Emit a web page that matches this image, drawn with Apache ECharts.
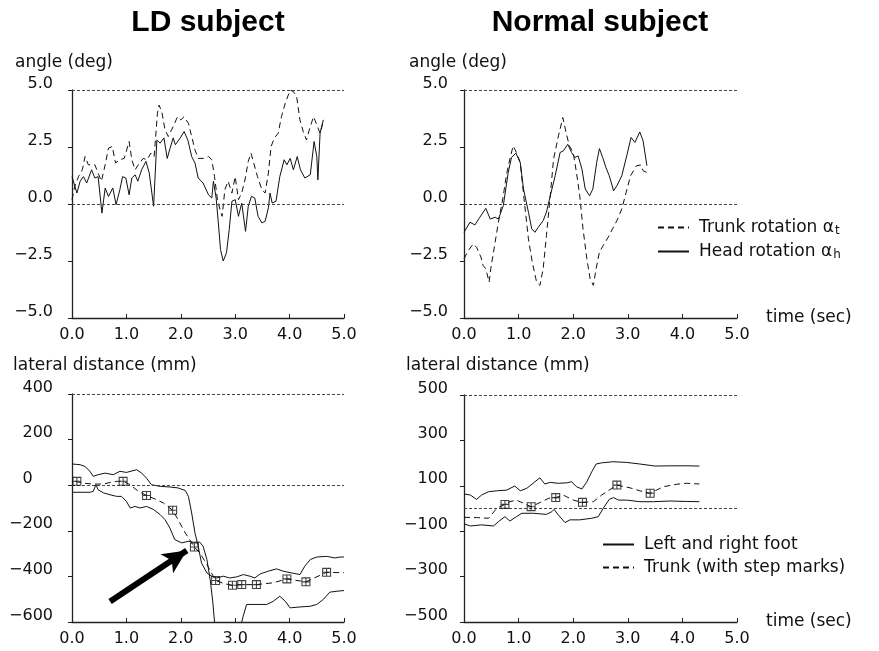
<!DOCTYPE html>
<html>
<head>
<meta charset="utf-8">
<script src="https://cdn.jsdelivr.net/npm/echarts@6/dist/echarts.min.js"></script>
<style>html,body{margin:0;padding:0;background:#fff}#c{width:879px;height:651px}</style>
</head>
<body>
<div id="c"></div>
<script>
// ---- data (time in sec, value) ----
const timeTicks = [0, 1, 2, 3, 4, 5];
const angleTicks = [-5, -2.5, 0, 2.5, 5];
const ldDistTicks = [-600, -400, -200, 0, 200, 400];
const nsDistTicks = [-500, -300, -100, 100, 300, 500];

const ldTrunkAngle = [[0,0.19],[0.05,0.77],[0.12,1.2],[0.19,1.5],[0.24,2.08],[0.3,1.72],[0.36,1.72],[0.42,1.72],[0.48,1.36],[0.54,1.0],[0.61,1.72],[0.67,2.45],[0.74,2.52],[0.8,1.8],[0.88,1.94],[0.96,2.0],[1.05,2.74],[1.1,1.94],[1.16,1.5],[1.24,1.8],[1.31,2.0],[1.38,1.94],[1.45,2.23],[1.51,2.08],[1.57,3.98],[1.6,4.34],[1.65,4.05],[1.71,3.25],[1.77,2.96],[1.86,3.4],[1.94,3.83],[2.0,3.69],[2.06,3.83],[2.14,3.54],[2.2,2.96],[2.26,2.38],[2.32,2.0],[2.41,2.0],[2.51,2.08],[2.57,1.94],[2.62,1.2],[2.67,0.26],[2.72,-0.25],[2.76,-0.54],[2.81,0.63],[2.87,1.0],[2.94,0.48],[3.0,1.2],[3.06,0.19],[3.12,0.48],[3.18,1.06],[3.24,1.87],[3.29,2.23],[3.35,1.72],[3.41,1.2],[3.49,0.63],[3.55,0.48],[3.61,1.36],[3.66,2.52],[3.72,2.9],[3.79,3.1],[3.85,3.83],[3.92,4.42],[4.01,5.0],[4.07,4.93],[4.13,4.7],[4.19,3.69],[4.25,3.18],[4.31,2.81],[4.37,3.32],[4.44,3.83],[4.5,3.47],[4.56,3.1],[4.61,3.54]];
const ldHeadAngle = [[0,1.2],[0.09,0.48],[0.15,1.0],[0.21,1.2],[0.27,0.92],[0.36,1.5],[0.42,1.14],[0.48,1.2],[0.55,-0.4],[0.61,0.7],[0.67,0.33],[0.75,0.7],[0.81,-0.03],[0.88,0.63],[0.93,1.2],[0.99,1.14],[1.05,0.4],[1.1,1.14],[1.16,1.28],[1.21,1.0],[1.28,1.5],[1.36,1.87],[1.42,1.36],[1.5,-0.1],[1.56,2.8],[1.62,2.67],[1.69,2.9],[1.75,2.0],[1.81,2.5],[1.86,2.9],[1.9,2.6],[1.99,2.9],[2.06,3.18],[2.13,2.8],[2.2,2.08],[2.26,1.8],[2.32,1.14],[2.41,0.92],[2.51,0.4],[2.57,0.26],[2.6,1.0],[2.65,0.26],[2.69,-0.83],[2.73,-2.0],[2.78,-2.5],[2.84,-2.14],[2.89,-1.12],[2.94,0.12],[3.0,0.19],[3.06,-0.54],[3.12,0.04],[3.19,-1.2],[3.24,-0.1],[3.3,0.34],[3.36,0.26],[3.42,-0.54],[3.49,-0.83],[3.55,-0.76],[3.61,-0.17],[3.64,0.48],[3.68,0.04],[3.75,0.12],[3.82,1.2],[3.9,1.94],[3.95,1.72],[4.01,2.0],[4.07,1.5],[4.14,2.08],[4.2,1.5],[4.28,1.14],[4.38,1.28],[4.45,2.74],[4.5,2.08],[4.52,1.06],[4.56,3.1],[4.62,3.69]];

const nsTrunkAngle = [[0,-2.4],[0.08,-2.04],[0.17,-1.75],[0.23,-1.9],[0.31,-2.33],[0.35,-2.7],[0.4,-2.84],[0.46,-3.43],[0.49,-2.84],[0.57,-1.68],[0.63,-0.8],[0.71,0.22],[0.78,1.31],[0.84,1.97],[0.9,2.55],[0.96,2.26],[1.03,1.82],[1.1,0.22],[1.18,-1.53],[1.25,-2.55],[1.33,-3.43],[1.39,-3.57],[1.45,-2.84],[1.51,-1.38],[1.58,0.36],[1.64,1.97],[1.73,2.99],[1.81,3.79],[1.87,3.13],[1.93,2.55],[2.0,2.26],[2.06,1.38],[2.12,0.36],[2.18,-1.09],[2.25,-2.4],[2.31,-3.28],[2.37,-3.57],[2.42,-2.84],[2.48,-2.11],[2.55,-1.82],[2.64,-1.46],[2.72,-1.09],[2.8,-0.73],[2.89,-0.22],[2.97,0.51],[3.05,1.24],[3.16,1.68],[3.24,1.71],[3.28,1.46],[3.35,1.38]];
const nsHeadAngle = [[0,-1.24],[0.11,-0.8],[0.2,-0.92],[0.29,-0.58],[0.4,-0.19],[0.48,-0.66],[0.57,-0.58],[0.63,-0.66],[0.72,-0.07],[0.81,1.38],[0.87,2.04],[0.95,2.23],[1.03,1.82],[1.09,0.66],[1.18,-0.36],[1.24,-1.09],[1.3,-1.24],[1.36,-1.02],[1.45,-0.73],[1.51,-0.36],[1.58,0.36],[1.67,1.24],[1.76,2.26],[1.82,2.33],[1.9,2.62],[1.97,2.26],[2.03,2.04],[2.09,2.11],[2.16,1.53],[2.22,0.66],[2.3,0.36],[2.36,0.66],[2.43,1.82],[2.48,2.43],[2.54,2.04],[2.6,1.6],[2.66,1.24],[2.74,0.58],[2.8,0.8],[2.89,1.24],[2.98,2.11],[3.06,2.92],[3.13,2.7],[3.22,3.16],[3.28,2.77],[3.35,1.68]];

const ldFootLeft = [[0,93],[0.15,90],[0.24,82],[0.33,61],[0.39,39],[0.48,46],[0.61,53],[0.76,46],[0.88,61],[1.0,56],[1.19,68],[1.28,53],[1.37,31],[1.46,2],[1.62,-5],[1.8,-8],[1.95,-12],[2.08,-23],[2.14,-49],[2.2,-122],[2.26,-209],[2.32,-268],[2.38,-341],[2.48,-385],[2.57,-399],[2.66,-407],[2.78,-399],[2.9,-407],[3.03,-402],[3.15,-392],[3.27,-399],[3.36,-407],[3.46,-389],[3.61,-377],[3.76,-367],[3.88,-377],[4.04,-385],[4.19,-392],[4.28,-355],[4.38,-326],[4.5,-315],[4.68,-312],[4.83,-319],[4.93,-315],[5.0,-315]];
const ldFootRight = [[0,-31],[0.33,-31],[0.39,-27],[0.44,2],[0.48,-20],[0.58,-34],[0.7,-42],[0.82,-49],[0.91,-49],[1.0,-71],[1.07,-100],[1.16,-93],[1.25,-100],[1.37,-93],[1.5,-107],[1.62,-129],[1.71,-151],[1.8,-188],[1.89,-239],[2.02,-253],[2.14,-246],[2.23,-250],[2.35,-250],[2.41,-268],[2.48,-326],[2.54,-414],[2.59,-516],[2.62,-600],[2.85,null],[3.12,-600],[3.14,-580],[3.21,-523],[3.33,-523],[3.58,-523],[3.7,-509],[3.82,-487],[3.92,-509],[4.01,-538],[4.19,-534],[4.38,-531],[4.5,-523],[4.62,-501],[4.74,-469],[4.87,-465],[5.0,-462]];
const ldTrunkPos = [[0.06,17],[0.21,9],[0.39,5],[0.58,5],[0.7,12],[0.82,17],[0.94,17],[1.07,2],[1.22,-27],[1.37,-45],[1.56,-64],[1.68,-78],[1.85,-110],[1.95,-151],[2.08,-209],[2.25,-271],[2.35,-297],[2.48,-348],[2.64,-418],[2.8,-432],[2.95,-439],[3.12,-436],[3.39,-436],[3.7,-428],[3.95,-411],[4.3,-424],[4.68,-382],[5.0,-384]];
const ldStepMarks = [[0.09,17],[0.94,17],[1.37,-45],[1.85,-110],[2.25,-271],[2.64,-418],[2.95,-439],[3.12,-436],[3.39,-436],[3.95,-411],[4.3,-424],[4.68,-382]];
const ldArrow = [[0.7,-510],[2.11,-286]];

const nsFootLeft = [[0,64],[0.12,59],[0.23,40],[0.32,59],[0.45,74],[0.6,78],[0.78,81],[0.93,99],[1.03,78],[1.15,89],[1.3,118],[1.39,135],[1.48,108],[1.58,115],[1.73,111],[1.88,113],[1.97,118],[2.06,96],[2.16,86],[2.25,118],[2.34,162],[2.42,196],[2.52,201],[2.73,206],[2.98,203],[3.22,196],[3.5,187],[3.77,188],[4.08,188],[4.31,187]];
const nsFootRight = [[0,-68],[0.12,-77],[0.32,-72],[0.54,-77],[0.63,-58],[0.75,-36],[0.84,-55],[0.96,-36],[1.06,-21],[1.27,-21],[1.51,-26],[1.61,-14],[1.65,-4],[1.73,-29],[1.85,-62],[1.94,-50],[2.12,-50],[2.34,-43],[2.46,-36],[2.55,1],[2.66,40],[2.74,48],[2.83,37],[2.98,37],[3.22,30],[3.47,30],[3.77,33],[4.08,31],[4.31,30]];
const nsTrunkPos = [[0,-39],[0.23,-40],[0.45,-43],[0.6,1],[0.75,18],[0.84,30],[0.96,37],[1.09,23],[1.23,8],[1.39,26],[1.55,45],[1.68,48],[1.82,59],[2.0,37],[2.17,27],[2.37,30],[2.52,59],[2.8,103],[3.04,91],[3.22,78],[3.41,67],[3.65,96],[3.9,107],[4.08,111],[4.31,108]];
const nsStepMarks = [[0.75,18],[1.23,8],[1.68,48],[2.17,27],[2.8,103],[3.41,67]];

// ---- styling ----
const FONT = '"DejaVu Sans", sans-serif';
const INK = '#111';
const dotted = {type: [3, 2], width: 1, color: '#444'};
const stepSymbol = 'path://M0,0H10V10H0Z M1.2,1.2V4.4H4.4V1.2Z M5.6,1.2V4.4H8.8V1.2Z M1.2,5.6V8.8H4.4V5.6Z M5.6,5.6V8.8H8.8V5.6Z';

function fmtNum(dec, padZero) {
  return function (v) {
    if (padZero && v === 0) return '0\u2007\u2007';
    const s = Math.abs(v).toFixed(dec);
    return (v < 0 ? '\u2212' : '') + s;
  };
}

function xAxisCfg(gi, withName) {
  return {
    type: 'value', gridIndex: gi, min: 0, max: 5, interval: 1,
    name: withName ? 'time (sec)' : '',
    nameLocation: 'end', nameGap: 29,
    nameTextStyle: {fontFamily: FONT, fontSize: 17, color: INK, verticalAlign: 'middle', padding: [0, 0, 8, 0]},
    axisLine: {show: true, onZero: false, lineStyle: {color: '#222', width: 1.3}},
    axisTick: {show: true, inside: true, length: 4, lineStyle: {color: '#222'}},
    axisLabel: {fontFamily: FONT, fontSize: 16, color: INK, margin: 9, formatter: fmtNum(1)},
    splitLine: {show: false}
  };
}

function yAxisCfg(gi, min, max, ticks, dec, margin, padZero) {
  return {
    type: 'value', gridIndex: gi, min: min, max: max,
    axisLine: {show: true, onZero: false, lineStyle: {color: '#222', width: 1.3}},
    axisTick: {show: true, inside: false, length: 4, customValues: ticks, lineStyle: {color: '#222'}},
    axisLabel: {fontFamily: FONT, fontSize: 16, color: INK, margin: margin, customValues: ticks,
      verticalAlign: 'bottom', lineHeight: 13, formatter: fmtNum(dec, padZero)},
    splitLine: {show: false}
  };
}

function lineSeries(name, data, gi, dashed, extra) {
  return Object.assign({
    name: name, type: 'line', xAxisIndex: gi, yAxisIndex: gi, data: data,
    showSymbol: false, symbol: 'none', smooth: false, connectNulls: false,
    lineStyle: {color: INK, width: 1, type: dashed ? [6, 4] : 'solid'},
    itemStyle: {color: INK}
  }, extra || {});
}

function refLines(top) {
  return {
    silent: true, symbol: ['none', 'none'], label: {show: false},
    lineStyle: dotted,
    data: [{yAxis: 0}, {yAxis: top}]
  };
}

function stepSeries(data, gi) {
  return {
    type: 'scatter', xAxisIndex: gi, yAxisIndex: gi, data: data,
    symbol: stepSymbol, symbolSize: 9, itemStyle: {color: INK}, silent: true, z: 5
  };
}

const legendItemStyle = {opacity: 0, color: 'transparent', borderWidth: 0};

const chart = echarts.init(document.getElementById('c'), null, {renderer: 'canvas'});
chart.setOption({
  animation: false,
  backgroundColor: '#fff',
  grid: [
    {left: 72, top: 90, width: 272, height: 228},
    {left: 464, top: 90, width: 273, height: 228},
    {left: 72, top: 394, width: 272, height: 228},
    {left: 464, top: 395, width: 273, height: 227}
  ],
  xAxis: [xAxisCfg(0, false), xAxisCfg(1, true), xAxisCfg(2, false), xAxisCfg(3, true)],
  yAxis: [
    yAxisCfg(0, -5, 5, angleTicks, 1, 19, false),
    yAxisCfg(1, -5, 5, angleTicks, 1, 16, false),
    yAxisCfg(2, -600, 400, ldDistTicks, 0, 19, true),
    yAxisCfg(3, -500, 500, nsDistTicks, 0, 16, false)
  ],
  legend: [
    {
      orient: 'vertical', left: 652, top: 214, itemWidth: 31, itemHeight: 14, itemGap: 6,
      data: ['Trunk rotation', 'Head rotation'],
      selectedMode: false,
      itemStyle: legendItemStyle,
      formatter: function (n) {
        return n === 'Trunk rotation' ? '{a|Trunk rotation \u03b1}{s|t}' : '{a|Head rotation \u03b1}{s|h}';
      },
      textStyle: {fontFamily: FONT, fontSize: 17, color: INK, padding: [0, 0, 0, 5],
        rich: {a: {fontFamily: FONT, fontSize: 17, color: INK},
               s: {fontFamily: FONT, fontSize: 12, color: INK, verticalAlign: 'bottom', padding: [7, 0, 0, 1]}}}
    },
    {
      orient: 'vertical', left: 597, top: 531, itemWidth: 31, itemHeight: 14, itemGap: 6,
      data: ['Left and right foot', 'Trunk (with step marks)'],
      selectedMode: false,
      itemStyle: legendItemStyle,
      textStyle: {fontFamily: FONT, fontSize: 17, color: INK, padding: [0, 0, 0, 5]}
    }
  ],
  graphic: [
    {type: 'text', x: 208, y: 23, style: {text: 'LD subject', font: 'bold 30px "Liberation Sans", Arial, sans-serif', fill: '#000', textAlign: 'center', textVerticalAlign: 'middle'}},
    {type: 'text', x: 600, y: 23, style: {text: 'Normal subject', font: 'bold 30px "Liberation Sans", Arial, sans-serif', fill: '#000', textAlign: 'center', textVerticalAlign: 'middle'}},
    {type: 'text', x: 15, y: 63, style: {text: 'angle (deg)', font: '17px "DejaVu Sans", sans-serif', fill: INK, textAlign: 'left', textVerticalAlign: 'middle'}},
    {type: 'text', x: 409, y: 63, style: {text: 'angle (deg)', font: '17px "DejaVu Sans", sans-serif', fill: INK, textAlign: 'left', textVerticalAlign: 'middle'}},
    {type: 'text', x: 13, y: 366, style: {text: 'lateral distance (mm)', font: '17px "DejaVu Sans", sans-serif', fill: INK, textAlign: 'left', textVerticalAlign: 'middle'}},
    {type: 'text', x: 406, y: 366, style: {text: 'lateral distance (mm)', font: '17px "DejaVu Sans", sans-serif', fill: INK, textAlign: 'left', textVerticalAlign: 'middle'}}
  ],
  series: [
    lineSeries('Trunk rotation', ldTrunkAngle, 0, true),
    lineSeries('Head rotation', ldHeadAngle, 0, false, {markLine: refLines(5)}),
    lineSeries('Trunk rotation', nsTrunkAngle, 1, true),
    lineSeries('Head rotation', nsHeadAngle, 1, false, {markLine: refLines(5)}),
    lineSeries('Left and right foot', ldFootLeft, 2, false, {markLine: refLines(400)}),
    lineSeries('Left and right foot', ldFootRight, 2, false),
    lineSeries('Trunk (with step marks)', ldTrunkPos, 2, true, {
      markLine: {
        silent: true, symbol: ['none', 'arrow'], symbolSize: [17, 24], label: {show: false},
        lineStyle: {color: '#000', width: 6, type: 'solid'},
        data: [[{coord: ldArrow[0]}, {coord: ldArrow[1]}]]
      }
    }),
    stepSeries(ldStepMarks, 2),
    lineSeries('Left and right foot', nsFootLeft, 3, false, {markLine: refLines(500)}),
    lineSeries('Left and right foot', nsFootRight, 3, false),
    lineSeries('Trunk (with step marks)', nsTrunkPos, 3, true),
    stepSeries(nsStepMarks, 3)
  ]
});
</script>
</body>
</html>
